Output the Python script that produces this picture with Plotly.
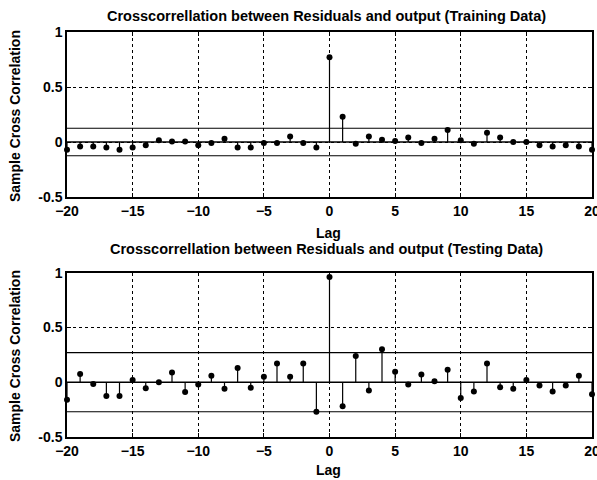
import plotly.graph_objects as go

lags = list(range(-20, 21))
train_xcf = [-0.07, -0.04, -0.04, -0.05, -0.07, -0.05, -0.03, 0.015, 0.005, 0.005,
             -0.03, -0.01, 0.03, -0.05, -0.05, -0.01, -0.01, 0.05, -0.01, -0.05,
             0.77, 0.23, -0.015, 0.05, 0.02, 0.01, 0.04, -0.01, 0.03, 0.11,
             0.015, -0.015, 0.085, 0.04, 0.0, 0.0, -0.03, -0.04, -0.03, -0.04, -0.07]
test_xcf = [-0.16, 0.075, -0.015, -0.125, -0.125, 0.02, -0.055, 0.0, 0.09, -0.09,
            -0.02, 0.06, -0.06, 0.13, -0.05, 0.05, 0.17, 0.05, 0.17, -0.27,
            0.96, -0.22, 0.24, -0.075, 0.30, 0.095, -0.02, 0.07, 0.01, 0.115,
            -0.145, -0.085, 0.17, -0.045, -0.06, 0.02, -0.03, -0.085, -0.03, 0.06, -0.11]
train_bound = 0.125
test_bound = 0.27
titles = ["Crosscorrellation between Residuals and output (Training Data)",
          "Crosscorrellation between Residuals and output (Testing Data)"]
x_ticks = [-20, -15, -10, -5, 0, 5, 10, 15, 20]
y_ticks = [-0.5, 0, 0.5, 1]
y_ticklabels = ["-0.5", "0", "0.5", "1"]

W, H = 597, 480
L, R, T, B = 67, 5, 32, 43
PW, PH = W - L - R, H - T - B

def py(p):
    return (H - B - p) / PH

def px(p):
    return (p - L) / PW

FONT = "Liberation Sans, Arial, sans-serif"

fig = go.Figure()

panels = [(train_xcf, train_bound, "x", "y"), (test_xcf, test_bound, "x2", "y2")]
for vals, bnd, xa, ya in panels:
    sx, sy = [], []
    for lag, v in zip(lags, vals):
        sx += [lag, lag, None]
        sy += [0, v, None]
    fig.add_trace(go.Scatter(x=sx, y=sy, mode="lines", line=dict(color="black", width=1.2),
                             xaxis=xa, yaxis=ya, showlegend=False, hoverinfo="skip"))
    fig.add_trace(go.Scatter(x=lags, y=vals, mode="markers",
                             marker=dict(color="black", size=6, symbol="circle"),
                             xaxis=xa, yaxis=ya, showlegend=False, cliponaxis=False))
    for yv in (0, bnd, -bnd):
        fig.add_trace(go.Scatter(x=[lags[0], lags[-1]], y=[yv, yv], mode="lines",
                                 line=dict(color="black", width=1.3 if yv == 0 else 1.1),
                                 xaxis=xa, yaxis=ya, showlegend=False, hoverinfo="skip"))

axis_common = dict(showline=True, linecolor="black", linewidth=1.5, mirror="ticks",
                   ticks="inside", ticklen=4, tickcolor="black", automargin=False,
                   showgrid=True, gridcolor="black", griddash="dot", gridwidth=1,
                   zeroline=False, ticklabeloverflow="allow",
                   tickfont=dict(family=FONT, size=14, color="black", weight="bold"))

fig.update_layout(
    width=W, height=H,
    margin=dict(l=L, r=R, t=T, b=B),
    paper_bgcolor="white", plot_bgcolor="white",
    xaxis=dict(domain=[0, 1], anchor="y", range=[-20, 20], tickvals=x_ticks, **axis_common),
    yaxis=dict(domain=[py(197), 1], anchor="x", range=[-0.5, 1], tickvals=y_ticks,
               ticktext=y_ticklabels, **axis_common),
    xaxis2=dict(domain=[0, 1], anchor="y2", range=[-20, 20], tickvals=x_ticks, **axis_common),
    yaxis2=dict(domain=[0, py(272.7)], anchor="x2", range=[-0.5, 1], tickvals=y_ticks,
                ticktext=y_ticklabels, **axis_common),
)

title_font = dict(family=FONT, size=14.5, color="black", weight="bold")
lab_font = dict(family=FONT, size=14, color="black", weight="bold")
annots = [
    (titles[0], px(326), py(16), 0, title_font),
    (titles[1], px(326), py(249), 0, title_font),
    ("Lag", px(328), py(233), 0, lab_font),
    ("Lag", px(328), py(470), 0, lab_font),
    ("Sample Cross Correlation", px(15), py(116), -90, lab_font),
    ("Sample Cross Correlation", px(15), py(356), -90, lab_font),
]
for text, ax_, ay_, ang, f in annots:
    fig.add_annotation(text=text, x=ax_, y=ay_, xref="paper", yref="paper",
                       xanchor="center", yanchor="middle", showarrow=False,
                       textangle=ang, font=f)

fig.write_html("out.html", config={"displayModeBar": False},
               post_script="document.body.style.margin='0px';")
